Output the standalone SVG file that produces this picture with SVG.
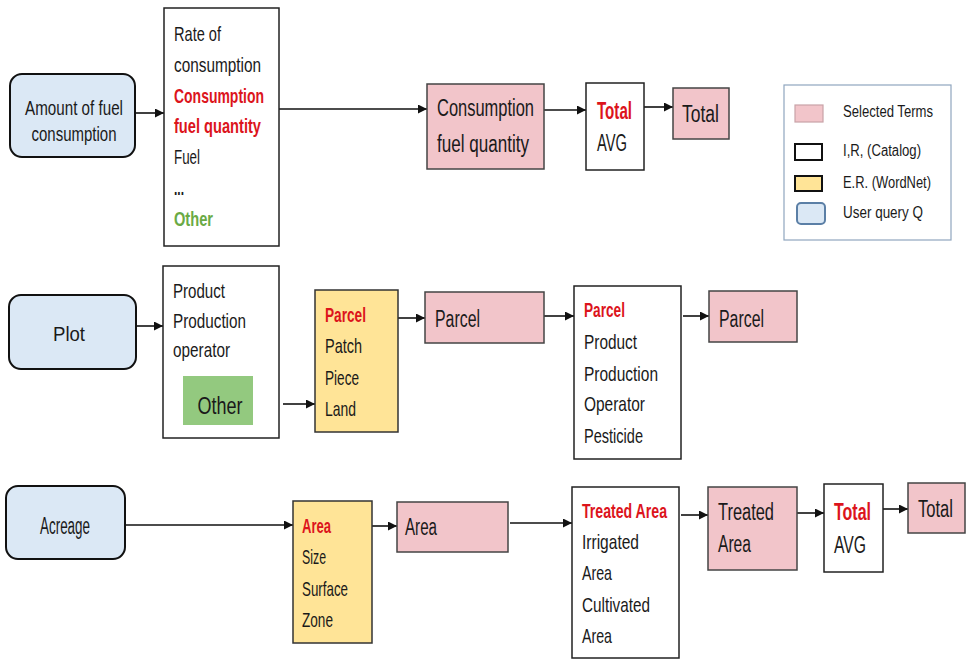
<svg xmlns="http://www.w3.org/2000/svg" width="966" height="659" viewBox="0 0 966 659">
  <defs>
    <marker id="arrow" markerWidth="9" markerHeight="9" refX="9" refY="4.5" orient="auto" markerUnits="userSpaceOnUse">
      <path d="M0,0 L9,4.5 L0,9 z" fill="#111"/>
    </marker>
    <style>
      .q { fill: #dbe8f5; stroke: #111; stroke-width: 2; }
      .w { fill: #fff; stroke: #222; stroke-width: 1.5; }
      .p { fill: #f2c5ca; stroke: #444; stroke-width: 1.5; }
      .y { fill: #ffe497; stroke: #333; stroke-width: 1.5; }
      .g { fill: #93c97f; }
      .t { font-family: "Liberation Sans", Arial, sans-serif; font-size: 21px; fill: #1a1a1a; }
      .big { font-size: 23px; }
      .r { fill: #dc141c; font-weight: bold; }
      .gr { fill: #6aaa45; font-weight: bold; }
      .m { text-anchor: middle; }
      .lg { font-family: "Liberation Sans", Arial, sans-serif; font-size: 16px; fill: #1a1a1a; }
      .c line { stroke: #111; stroke-width: 1.6; marker-end: url(#arrow); }
    </style>
  </defs>
  <rect width="966" height="659" fill="#fff"/>

  <!-- connectors -->
  <g id="connectors" class="c">
    <line x1="135" y1="113" x2="164" y2="113"/>
    <line x1="279" y1="109" x2="427" y2="109"/>
    <line x1="544" y1="110" x2="586" y2="110"/>
    <line x1="644" y1="107" x2="673" y2="107"/>
    <line x1="136" y1="326" x2="163" y2="326"/>
    <line x1="283" y1="404" x2="315" y2="404"/>
    <line x1="398" y1="318" x2="425" y2="318"/>
    <line x1="544" y1="316" x2="574" y2="316"/>
    <line x1="683" y1="316" x2="709" y2="316"/>
    <line x1="125" y1="525" x2="293" y2="525"/>
    <line x1="372" y1="526" x2="397" y2="526"/>
    <line x1="510" y1="523" x2="572" y2="523"/>
    <line x1="681" y1="515" x2="708" y2="515"/>
    <line x1="797" y1="513" x2="824" y2="513"/>
    <line x1="883" y1="509" x2="908" y2="509"/>
  </g>

  <!-- row 1: fuel consumption -->
  <g id="query-fuel">
    <rect class="q" x="10" y="74" width="125" height="83" rx="12"/>
    <text class="t m" x="74" y="115" textLength="98" lengthAdjust="spacingAndGlyphs">Amount of fuel</text>
    <text class="t m" x="74" y="141" textLength="85" lengthAdjust="spacingAndGlyphs">consumption</text>
  </g>
  <g id="catalog-fuel">
    <rect class="w" x="164" y="8" width="115" height="238"/>
    <text class="t" x="174" y="41" textLength="47" lengthAdjust="spacingAndGlyphs">Rate of</text>
    <text class="t" x="174" y="72" textLength="87" lengthAdjust="spacingAndGlyphs">consumption</text>
    <text class="t r" x="174" y="103" textLength="90" lengthAdjust="spacingAndGlyphs">Consumption</text>
    <text class="t r" x="174" y="133" textLength="87" lengthAdjust="spacingAndGlyphs">fuel quantity</text>
    <text class="t" x="174" y="164" textLength="26" lengthAdjust="spacingAndGlyphs">Fuel</text>
    <text class="t" x="174" y="195" textLength="10" lengthAdjust="spacingAndGlyphs" font-weight="bold">...</text>
    <text class="t gr" x="174" y="226" textLength="39" lengthAdjust="spacingAndGlyphs">Other</text>
  </g>
  <g id="selected-fuel">
    <rect class="p" x="427" y="84" width="117" height="85"/>
    <text class="t big" x="437" y="116" textLength="97" lengthAdjust="spacingAndGlyphs">Consumption</text>
    <text class="t big" x="437" y="152" textLength="92" lengthAdjust="spacingAndGlyphs">fuel quantity</text>
  </g>
  <g id="catalog-total-1">
    <rect class="w" x="586" y="83" width="58" height="87"/>
    <text class="t big r" x="597" y="119" textLength="35" lengthAdjust="spacingAndGlyphs">Total</text>
    <text class="t big" x="597" y="151" textLength="30" lengthAdjust="spacingAndGlyphs">AVG</text>
  </g>
  <g id="selected-total-1">
    <rect class="p" x="673" y="88" width="56" height="51"/>
    <text class="t big" x="682" y="122" textLength="37" lengthAdjust="spacingAndGlyphs">Total</text>
  </g>

  <!-- legend -->
  <g id="legend">
    <rect x="784" y="85" width="167" height="155" fill="#fff" stroke="#8fa6bf" stroke-width="1.2"/>
    <rect x="795" y="105" width="28" height="17" fill="#f2c5ca" stroke="#c9a2a7" stroke-width="1.2"/>
    <text class="lg" x="843" y="117" textLength="90" lengthAdjust="spacingAndGlyphs">Selected Terms</text>
    <rect x="795" y="144" width="27" height="16" fill="#fff" stroke="#111" stroke-width="2"/>
    <text class="lg" x="843" y="156" textLength="78" lengthAdjust="spacingAndGlyphs">I,R, (Catalog)</text>
    <rect x="795" y="176" width="27" height="15" fill="#ffe497" stroke="#111" stroke-width="2"/>
    <text class="lg" x="843" y="188" textLength="88" lengthAdjust="spacingAndGlyphs">E.R. (WordNet)</text>
    <rect x="797" y="203" width="28" height="21" rx="4" fill="#dbe8f5" stroke="#5b7fa6" stroke-width="2"/>
    <text class="lg" x="843" y="218" textLength="80" lengthAdjust="spacingAndGlyphs">User query Q</text>
  </g>

  <!-- row 2: plot -->
  <g id="query-plot">
    <rect class="q" x="9" y="295" width="127" height="74" rx="12"/>
    <text class="t m" x="69" y="341" textLength="32" lengthAdjust="spacingAndGlyphs">Plot</text>
  </g>
  <g id="catalog-plot">
    <rect class="w" x="163" y="266" width="116" height="172"/>
    <text class="t" x="173" y="298" textLength="52" lengthAdjust="spacingAndGlyphs">Product</text>
    <text class="t" x="173" y="328" textLength="73" lengthAdjust="spacingAndGlyphs">Production</text>
    <text class="t" x="173" y="357" textLength="57" lengthAdjust="spacingAndGlyphs">operator</text>
  </g>
  <g id="other-plot">
    <rect class="g" x="183" y="376" width="70" height="49"/>
    <text class="t big m" x="220" y="414" textLength="45" lengthAdjust="spacingAndGlyphs">Other</text>
  </g>
  <g id="wordnet-plot">
    <rect class="y" x="315" y="290" width="83" height="142"/>
    <text class="t r" x="325" y="322" textLength="41" lengthAdjust="spacingAndGlyphs">Parcel</text>
    <text class="t" x="325" y="353" textLength="37" lengthAdjust="spacingAndGlyphs">Patch</text>
    <text class="t" x="325" y="385" textLength="34" lengthAdjust="spacingAndGlyphs">Piece</text>
    <text class="t" x="325" y="416" textLength="31" lengthAdjust="spacingAndGlyphs">Land</text>
  </g>
  <g id="selected-parcel-1">
    <rect class="p" x="425" y="292" width="119" height="51"/>
    <text class="t big" x="435" y="327" textLength="45" lengthAdjust="spacingAndGlyphs">Parcel</text>
  </g>
  <g id="catalog-parcel">
    <rect class="w" x="574" y="286" width="107" height="173"/>
    <text class="t r" x="584" y="317" textLength="41" lengthAdjust="spacingAndGlyphs">Parcel</text>
    <text class="t" x="584" y="349" textLength="53" lengthAdjust="spacingAndGlyphs">Product</text>
    <text class="t" x="584" y="381" textLength="74" lengthAdjust="spacingAndGlyphs">Production</text>
    <text class="t" x="584" y="411" textLength="61" lengthAdjust="spacingAndGlyphs">Operator</text>
    <text class="t" x="584" y="443" textLength="59" lengthAdjust="spacingAndGlyphs">Pesticide</text>
  </g>
  <g id="selected-parcel-2">
    <rect class="p" x="709" y="291" width="88" height="51"/>
    <text class="t big" x="719" y="327" textLength="45" lengthAdjust="spacingAndGlyphs">Parcel</text>
  </g>

  <!-- row 3: acreage -->
  <g id="query-acreage">
    <rect class="q" x="6" y="486" width="119" height="73" rx="12"/>
    <text class="t big m" x="65" y="534" textLength="50" lengthAdjust="spacingAndGlyphs">Acreage</text>
  </g>
  <g id="wordnet-acreage">
    <rect class="y" x="293" y="501" width="79" height="142"/>
    <text class="t r" x="302" y="533" textLength="29" lengthAdjust="spacingAndGlyphs">Area</text>
    <text class="t" x="302" y="564" textLength="24" lengthAdjust="spacingAndGlyphs">Size</text>
    <text class="t" x="302" y="596" textLength="46" lengthAdjust="spacingAndGlyphs">Surface</text>
    <text class="t" x="302" y="627" textLength="31" lengthAdjust="spacingAndGlyphs">Zone</text>
  </g>
  <g id="selected-area">
    <rect class="p" x="397" y="502" width="111" height="50"/>
    <text class="t big" x="405" y="535" textLength="32" lengthAdjust="spacingAndGlyphs">Area</text>
  </g>
  <g id="catalog-area">
    <rect class="w" x="572" y="487" width="107" height="171"/>
    <text class="t r" x="582" y="518" textLength="85" lengthAdjust="spacingAndGlyphs">Treated Area</text>
    <text class="t" x="582" y="549" textLength="57" lengthAdjust="spacingAndGlyphs">Irrigated</text>
    <text class="t" x="582" y="580" textLength="30" lengthAdjust="spacingAndGlyphs">Area</text>
    <text class="t" x="582" y="612" textLength="68" lengthAdjust="spacingAndGlyphs">Cultivated</text>
    <text class="t" x="582" y="643" textLength="30" lengthAdjust="spacingAndGlyphs">Area</text>
  </g>
  <g id="selected-treated-area">
    <rect class="p" x="708" y="487" width="89" height="83"/>
    <text class="t big" x="718" y="520" textLength="56" lengthAdjust="spacingAndGlyphs">Treated</text>
    <text class="t big" x="718" y="552" textLength="33" lengthAdjust="spacingAndGlyphs">Area</text>
  </g>
  <g id="catalog-total-2">
    <rect class="w" x="824" y="484" width="59" height="88"/>
    <text class="t big r" x="834" y="520" textLength="37" lengthAdjust="spacingAndGlyphs">Total</text>
    <text class="t big" x="834" y="553" textLength="32" lengthAdjust="spacingAndGlyphs">AVG</text>
  </g>
  <g id="selected-total-2">
    <rect class="p" x="908" y="483" width="57" height="50"/>
    <text class="t big" x="918" y="517" textLength="35" lengthAdjust="spacingAndGlyphs">Total</text>
  </g>
</svg>
